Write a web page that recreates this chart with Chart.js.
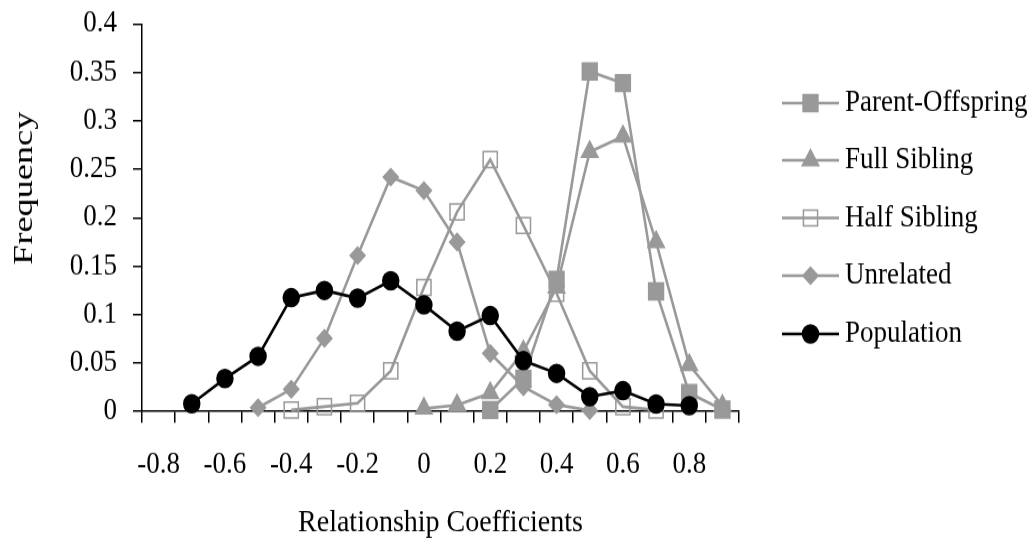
<!DOCTYPE html>
<html>
<head>
<meta charset="utf-8">
<title>Relationship Coefficients</title>
<script src="https://cdn.jsdelivr.net/npm/chart.js@4/dist/chart.umd.min.js"></script>
<style>
  html, body { margin: 0; padding: 0; background: #fff; }
  #wrap { width: 1036px; height: 539px; overflow: hidden; }
  /* the original figure is slightly stretched vertically */
  #relChart { transform: scaleY(1.1206); transform-origin: 0 0; }
</style>
</head>
<body>
<div id="wrap"><canvas id="relChart" width="1036" height="481"></canvas></div>
<script>
// categories along the x axis (every other one gets a label)
const categories = ['-0.8', '-0.7', '-0.6', '-0.5', '-0.4', '-0.3', '-0.2', '-0.1', '0',
  '0.1', '0.2', '0.3', '0.4', '0.5', '0.6', '0.7', '0.8', '0.9'];

// frequencies, null where the series has no point
const parentOffspring = [null, null, null, null, null, null, null, null, null,
  null, 0.0015, 0.034, 0.136, 0.351, 0.339, 0.124, 0.019, 0.002];
const fullSibling = [null, null, null, null, null, null, null, null, 0.003,
  0.0065, 0.019, 0.062, 0.128, 0.268, 0.284, 0.175, 0.048, 0.006];
const halfSibling = [null, null, null, null, 0.0015, 0.005, 0.0085, 0.042, 0.128,
  0.206, 0.260, 0.192, 0.122, 0.042, 0.005, 0.0015, null, null];
const unrelated = [null, null, null, 0.004, 0.023, 0.0755, 0.161, 0.242, 0.228,
  0.175, 0.060, 0.0256, 0.007, 0.001, null, null, null, null];
const population = [null, 0.008, 0.034, 0.057, 0.1175, 0.125, 0.117, 0.135, 0.110,
  0.083, 0.099, 0.0525, 0.0394, 0.0153, 0.0215, 0.0077, 0.006, null];

const yTicks = [0, 0.05, 0.1, 0.15, 0.2, 0.25, 0.3, 0.35, 0.4];

const GREY = '#999999';
const FONT = '"Liberation Serif", "Times New Roman", serif';
Chart.defaults.font.family = FONT;
Chart.defaults.color = '#000';

// legend drawn at the side, line + marker like the spreadsheet legend
const sideLegend = {
  id: 'sideLegend',
  afterDraw(chart) {
    const ctx = chart.ctx;
    const x0 = 782, x1 = 839, textX = 845;
    const rowY = [92, 143, 194.5, 246, 298];
    ctx.save();
    chart.data.datasets.forEach((ds, i) => {
      const y = rowY[i];
      ctx.strokeStyle = ds.borderColor;
      ctx.lineWidth = ds.borderWidth;
      ctx.beginPath();
      ctx.moveTo(x0, y);
      ctx.lineTo(x1, y);
      ctx.stroke();
      ctx.fillStyle = ds.pointBackgroundColor;
      ctx.strokeStyle = ds.pointBorderColor;
      ctx.lineWidth = ds.pointBorderWidth;
      Chart.helpers.drawPoint(ctx, {
        pointStyle: ds.pointStyle, radius: ds.pointRadius, rotation: 0, borderWidth: ds.pointBorderWidth
      }, (x0 + x1) / 2, y);
      ctx.fillStyle = '#000';
      ctx.font = '27px ' + FONT;
      ctx.textAlign = 'left';
      ctx.textBaseline = 'middle';
      ctx.fillText(ds.label, textX, y);
    });
    // y axis title, drawn a bit stretched like the original
    ctx.translate(25, 168);
    ctx.rotate(-Math.PI / 2);
    ctx.scale(1.2, 1);
    ctx.fillStyle = '#000';
    ctx.font = '27px ' + FONT;
    ctx.textAlign = 'center';
    ctx.textBaseline = 'middle';
    ctx.fillText('Frequency', 0, 0);
    ctx.restore();
  }
};

function series(label, data, style, radius, fill, line, order) {
  return {
    label: label,
    data: data,
    borderColor: line,
    borderWidth: 2.6,
    pointStyle: style,
    pointRadius: radius,
    pointHoverRadius: radius,
    pointBackgroundColor: fill,
    pointBorderColor: line,
    pointBorderWidth: 1.5,
    order: order,
    tension: 0
  };
}

// keep the plot box where the original has it
function noEdgePadding(scale) {
  scale.paddingTop = 0;
  scale.paddingBottom = 0;
  scale.paddingLeft = 0;
  scale.paddingRight = 0;
}

const ctx = document.getElementById('relChart');
const relChart = new Chart(ctx, {
  type: 'line',
  data: {
    labels: categories,
    datasets: [
      series('Parent-Offspring', parentOffspring, 'rect', 10.5, GREY, GREY, 1),
      series('Full Sibling', fullSibling, 'triangle', 9.5, GREY, GREY, 2),
      series('Half Sibling', halfSibling, 'rect', 10, 'rgba(0,0,0,0)', GREY, 3),
      series('Unrelated', unrelated, 'rectRot', 7.5, GREY, GREY, 4),
      series('Population', population, 'circle', 8, '#000', '#000', 0)
    ]
  },
  options: {
    responsive: false,
    animation: false,
    devicePixelRatio: 1,
    layout: { padding: { top: 21.4, right: 297, left: 0, bottom: 0 } },
    datasets: { line: { clip: false } },
    plugins: {
      legend: { display: false },
      tooltip: { enabled: false }
    },
    scales: {
      x: {
        type: 'category',
        offset: true,
        grid: { offset: true, drawOnChartArea: false, color: '#000', lineWidth: 1.5, tickLength: 10 },
        border: { color: '#000', width: 1.5 },
        ticks: {
          autoSkip: false,
          maxRotation: 0,
          padding: 22,
          font: { size: 27 },
          color: '#000',
          callback: function (val, i) {
            return i % 2 === 0 ? this.getLabelForValue(val) : '';
          }
        },
        title: {
          display: true,
          text: 'Relationship Coefficients',
          font: { size: 28, lineHeight: 1 },
          color: '#000',
          padding: { top: 0, bottom: 0 }
        },
        afterFit: (scale) => { scale.height = 113.8; noEdgePadding(scale); }
      },
      y: {
        min: 0,
        max: 0.4,
        grid: { drawOnChartArea: false, color: '#000', lineWidth: 1.5, tickLength: 9 },
        border: { color: '#000', width: 1.5 },
        afterBuildTicks: (scale) => { scale.ticks = yTicks.map(v => ({ value: v })); },
        ticks: {
          padding: 16,
          font: { size: 27 },
          color: '#000',
          callback: (v) => String(Number(v.toFixed(2)))
        },
        afterFit: (scale) => { scale.width = 142; noEdgePadding(scale); }
      }
    }
  },
  plugins: [sideLegend]
});
</script>
</body>
</html>
